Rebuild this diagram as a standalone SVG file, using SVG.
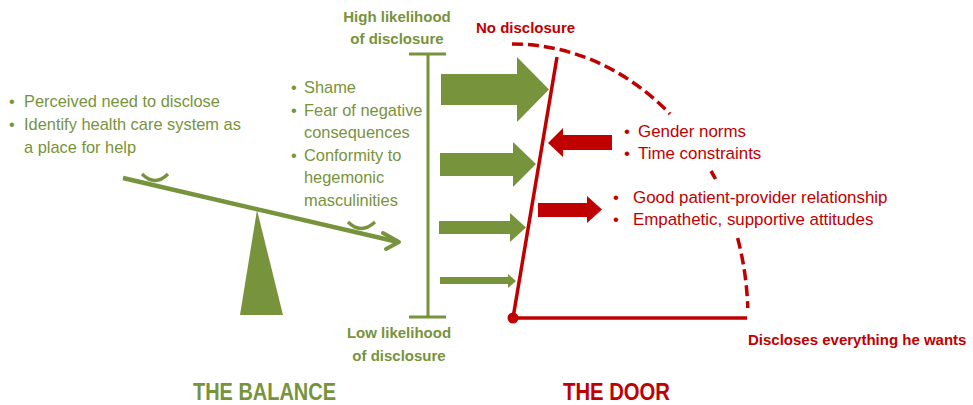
<svg xmlns="http://www.w3.org/2000/svg" width="973" height="405" viewBox="0 0 973 405">
<style>
.g{fill:#77933C}
.r{fill:#C00000}
.t{font-family:"Liberation Sans",Arial,sans-serif;font-size:16.4px}
.tr{font-family:"Liberation Sans",Arial,sans-serif;font-size:16.9px}
.b{font-family:"Liberation Sans",Arial,sans-serif;font-size:15px;font-weight:bold}
.h{font-family:"Liberation Sans",Arial,sans-serif;font-size:23px;font-weight:bold}
.gs{stroke:#77933C;fill:none}
.rs{stroke:#C00000;fill:none}
.dash{stroke:#C00000;fill:none;stroke-width:3.5;stroke-dasharray:11 5}
</style>
<rect width="973" height="405" fill="#ffffff"/>

<g id="balance-factors">
<text class="t g" x="9" y="107">•</text><text class="t g" x="24" y="107">Perceived need to disclose</text>
<text class="t g" x="9" y="130">•</text><text class="t g" x="24" y="130">Identify health care system as</text>
<text class="t g" x="24" y="153">a place for help</text>
</g>

<g id="seesaw">
<line class="gs" x1="123" y1="178" x2="398" y2="242" stroke-width="4.5"/>
<polyline class="gs" points="383,233 399,242 386,249" stroke-width="4" stroke-linecap="round" stroke-linejoin="round"/>
<path class="gs" d="M142,174 Q155,187 168,174" stroke-width="3.2"/>
<path class="gs" d="M348,222 Q361,235 375,222" stroke-width="3.2"/>
<polygon class="g" points="257,210 283,315 240,315"/>
</g>

<g id="barriers">
<text class="t g" x="291" y="93">•</text><text class="t g" x="304" y="93">Shame</text>
<text class="t g" x="291" y="115.5">•</text><text class="t g" x="304" y="115.5">Fear of negative</text>
<text class="t g" x="304" y="138">consequences</text>
<text class="t g" x="291" y="160.5">•</text><text class="t g" x="304" y="160.5">Conformity to</text>
<text class="t g" x="304" y="183">hegemonic</text>
<text class="t g" x="304" y="205.5">masculinities</text>
</g>

<g id="likelihood-scale">
<text class="b g" x="397" y="22" text-anchor="middle">High likelihood</text>
<text class="b g" x="397" y="44" text-anchor="middle">of disclosure</text>
<line class="gs" x1="428" y1="54" x2="428" y2="317" stroke-width="3"/>
<line class="gs" x1="409" y1="54" x2="446" y2="54" stroke-width="3"/>
<line class="gs" x1="409" y1="317" x2="446" y2="317" stroke-width="3"/>
<text class="b g" x="399" y="338" text-anchor="middle">Low likelihood</text>
<text class="b g" x="399" y="361" text-anchor="middle">of disclosure</text>
</g>

<g id="pressure-arrows">
<polygon class="g" points="441,74 517,74 517,57 549,89.5 517,122 517,105 441,105"/>
<polygon class="g" points="440,153 513,153 513,142 536,164 513,187 513,176 440,176"/>
<polygon class="g" points="439,221 510,221 510,213 526,227.5 510,242 510,234 439,234"/>
<polygon class="g" points="440,277 508,277 508,274 516,281 508,288 508,284 440,284"/>
</g>

<g id="door">
<line class="rs" x1="513" y1="318" x2="557" y2="57" stroke-width="3.5"/>
<line class="rs" x1="513" y1="318" x2="747" y2="318" stroke-width="3.5"/>
<circle class="r" cx="513" cy="318" r="5.5"/>
<path class="dash" d="M512,44 A236,274 0 0 1 670,114"/>
<path class="dash" d="M711,171 A236,274 0 0 1 715.5,179" stroke-dasharray="none"/>
<path class="dash" d="M737.6,238 A236,274 0 0 1 747.8,308"/>
<text class="b r" x="476" y="33">No disclosure</text>
<text class="b r" x="748" y="345">Discloses everything he wants</text>
</g>

<g id="door-forces">
<polygon class="r" points="612,135 563,135 563,128 548,143 563,157 563,150 612,150"/>
<polygon class="r" points="538,203 587,203 587,196 602,209.5 587,223 587,217 538,217"/>
<text class="tr r" x="624" y="137">•</text><text class="tr r" x="638" y="137">Gender norms</text>
<text class="tr r" x="624" y="159">•</text><text class="tr r" x="638" y="159">Time constraints</text>
<text class="tr r" x="613" y="203">•</text><text class="tr r" x="633" y="203">Good patient-provider relationship</text>
<text class="tr r" x="613" y="225">•</text><text class="tr r" x="633" y="225">Empathetic, supportive attitudes</text>
</g>

<g id="titles">
<text class="h g" x="193" y="400" textLength="143" lengthAdjust="spacingAndGlyphs">THE BALANCE</text>
<text class="h r" x="563" y="400" textLength="107" lengthAdjust="spacingAndGlyphs">THE DOOR</text>
</g>
</svg>
